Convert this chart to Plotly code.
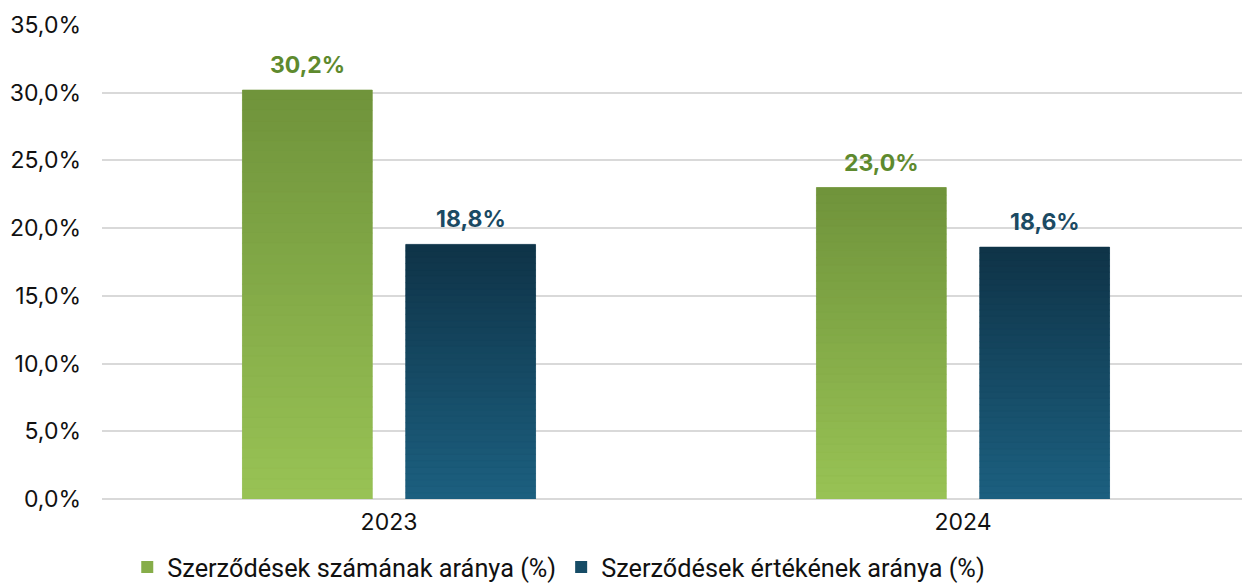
import plotly.graph_objects as go

years = ["2023", "2024"]
count_share = [30.2, 23.0]
value_share = [18.8, 18.6]
series_names = ["Szerződések számának aránya (%)", "Szerződések értékének aránya (%)"]
y_ticks = [0, 5, 10, 15, 20, 25, 30, 35]

green_top, green_bottom = (0x6F, 0x93, 0x3B), (0x99, 0xC3, 0x55)
blue_top, blue_bottom = (0x0F, 0x33, 0x47), (0x1C, 0x60, 0x80)
label_green = "#5E8A2E"
label_blue = "#1B4A63"
N_SEG = 40
BARGAP = 0.431
BARGROUPGAP = 0.205


def mix(c1, c2, t):
    return "rgb(%d,%d,%d)" % tuple(round(a + (b - a) * t) for a, b in zip(c1, c2))


def fmt(v):
    return ("%.1f%%" % v).replace(".", ",")


fig = go.Figure()

series = [
    (count_share, series_names[0], "g", green_top, green_bottom, label_green, -1),
    (value_share, series_names[1], "b", blue_top, blue_bottom, label_blue, 1),
]

slot = (1 - BARGAP) / 2
for vals, name, grp, ctop, cbot, lab, side in series:
    fig.add_trace(go.Bar(
        x=years, y=vals, name=name, offsetgroup=grp,
        marker=dict(color=mix(cbot, ctop, 0.45), line=dict(width=0)),
        hoverinfo="skip",
    ))
    # gradient overlay: split each bar into thin slices
    for k in range(N_SEG):
        t = (k + 0.5) / N_SEG
        fig.add_trace(go.Bar(
            x=years, y=[v / N_SEG for v in vals], base=[v * k / N_SEG for v in vals],
            offsetgroup=grp, showlegend=False, hoverinfo="skip",
            marker=dict(color=mix(cbot, ctop, t), line=dict(width=0.6, color=mix(cbot, ctop, t))),
        ))
    for i, v in enumerate(vals):
        fig.add_annotation(
            x=i + side * slot / 2, y=v, xref="x", yref="y",
            text=fmt(v), showarrow=False, yanchor="bottom", yshift=9,
            font=dict(family="Inter", size=23, color=lab, weight="bold"),
        )

fig.update_layout(
    width=1250, height=583,
    barmode="group", bargap=BARGAP, bargroupgap=BARGROUPGAP,
    separators=", ",
    plot_bgcolor="white", paper_bgcolor="white",
    margin=dict(l=94, r=8, t=17, b=92, autoexpand=False),
    font=dict(family="Inter", size=23, color="#111111"),
    showlegend=True,
    legend=dict(orientation="h", x=0.022, xanchor="left", xref="paper",
                y=24 / 583, yanchor="middle", yref="container",
                font=dict(family="Liberation Sans Narrow, Arial Narrow, Roboto", size=25.3, color="#111111"),
                itemwidth=30, traceorder="normal"),
    yaxis=dict(range=[0, 35], tickvals=y_ticks, ticktext=[fmt(v) for v in y_ticks],
               showgrid=True, gridcolor="#D9D9D9", gridwidth=2,
               zeroline=True, zerolinecolor="#D9D9D9", zerolinewidth=2,
               ticks="", ticklabelstandoff=20, tickfont=dict(size=23), automargin=False),
    xaxis=dict(showgrid=False, ticks="", tickfont=dict(size=23), ticklabelstandoff=7,
               automargin=False),
)

fig.write_html("out.html")
